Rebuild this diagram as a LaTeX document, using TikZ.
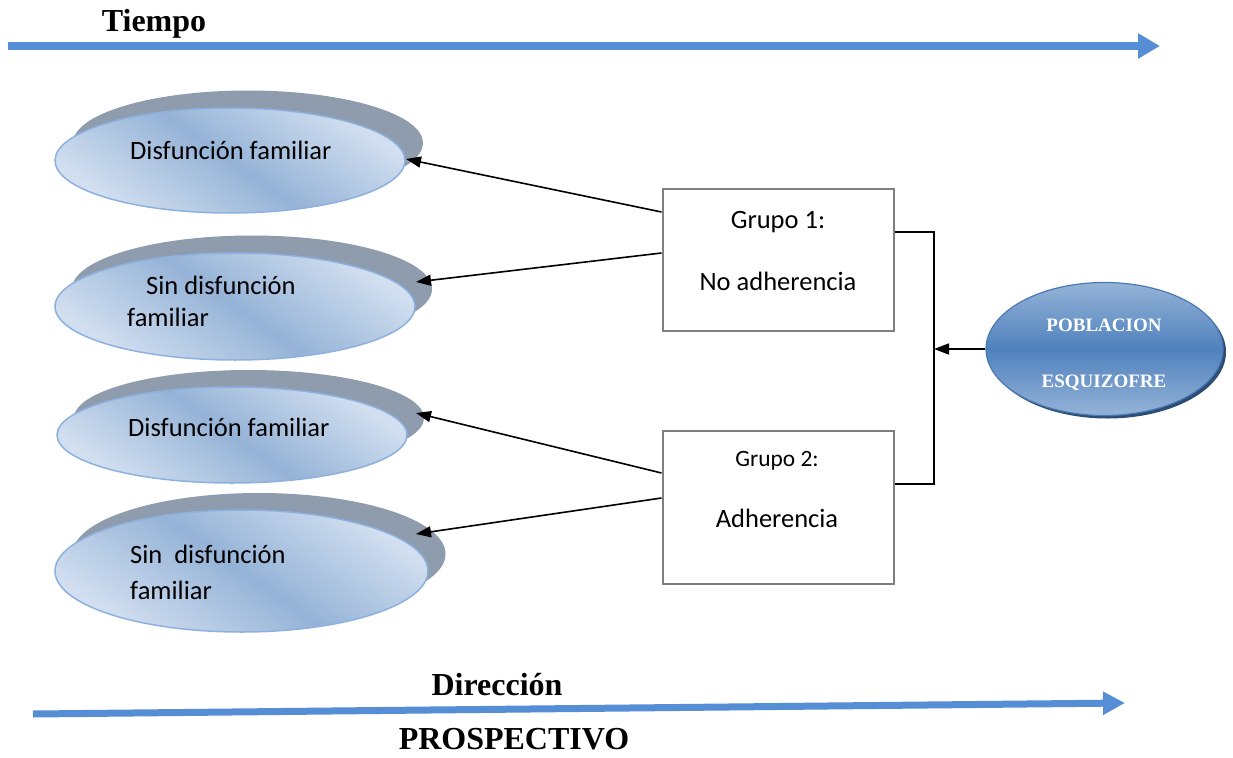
\documentclass[tikz,border=0pt]{standalone}
\usepackage{fontspec}
\setmainfont{Liberation Serif}
\newfontfamily\calfont{Carlito}
\usetikzlibrary{shapes.geometric,arrows.meta}
\definecolor{shadowgray}{RGB}{142,156,174}
\definecolor{elight}{RGB}{210,223,240}
\definecolor{edark}{RGB}{149,179,215}
\definecolor{ebord}{RGB}{141,177,222}
\definecolor{arrowblue}{RGB}{85,142,213}
\definecolor{plight}{RGB}{149,179,215}
\definecolor{pdark}{RGB}{79,129,189}
\definecolor{pbord}{RGB}{74,120,180}
\definecolor{pshadow}{RGB}{44,77,117}
\definecolor{boxgray}{RGB}{127,127,127}
\tikzset{
  shadowell/.style={ellipse, fill=shadowgray, draw=none, inner sep=0pt},
  frontell/.style={ellipse, draw=ebord, line width=1.5pt, inner sep=0pt,
    top color=elight, bottom color=elight, middle color=edark, shading angle=-35},
  txt/.style={anchor=base west, inner sep=0pt, font=\calfont\fontsize{26.5}{30}\selectfont},
  ctxt/.style={anchor=base, inner sep=0pt, font=\calfont\fontsize{26.5}{30}\selectfont},
  btxt/.style={anchor=base, inner sep=0pt, font=\bfseries\fontsize{32}{36}\selectfont},
  grpbox/.style={draw=boxgray, line width=2pt, fill=white, minimum width=231pt, minimum height=142pt, inner sep=0pt},
  conn/.style={line width=1.6pt, black},
  arr/.style={conn, -{Triangle[length=15pt,width=11pt]}},
  bigarrow/.style={line width=8pt, arrowblue, -{Triangle[length=22pt,width=24pt]}}
}
\begin{document}
\begin{tikzpicture}[x=1pt,y=-1pt]
\useasboundingbox (0,0) rectangle (1233,757);

% time arrow
\coordinate (ta) at (8,46);
\coordinate (tb) at (1160,46);
\draw[bigarrow] (ta) -- (tb);
\node[btxt] (tiempo) at (154,32) {Tiempo};

% ellipses (shadow + front)
\node[shadowell, minimum width=350pt, minimum height=105pt] (s1) at (248,143) {};
\node[frontell, minimum width=350pt, minimum height=105pt] (e1) at (230,160.5) {};
\node[txt] (l1) at (130,159) {Disfunción familiar};

\node[shadowell, minimum width=360pt, minimum height=107pt] (s2) at (252,289) {};
\node[frontell, minimum width=360pt, minimum height=107pt] (e2) at (235,306.5) {};
\node[txt] (l2a) at (146,294) {Sin disfunción};
\node[txt] (l2b) at (127,326) {familiar};

\node[shadowell, minimum width=350pt, minimum height=96pt] (s3) at (249,418) {};
\node[frontell, minimum width=350pt, minimum height=96pt] (e3) at (232,435) {};
\node[txt] (l3) at (128,436) {Disfunción familiar};

\node[shadowell, minimum width=373pt, minimum height=122pt] (s4) at (259,554) {};
\node[frontell, minimum width=373pt, minimum height=122pt] (e4) at (241.5,571) {};
\node[txt] (l4a) at (130,563) {Sin\ \ disfunción};
\node[txt] (l4b) at (130,599) {familiar};

% group boxes
\node[grpbox] (g1) at (778,260) {};
\node[ctxt] (g1a) at (778,228) {Grupo 1:};
\node[ctxt] (g1b) at (778,290) {No adherencia};

\node[grpbox, minimum height=153pt] (g2) at (778,507.5) {};
\node[ctxt, font=\calfont\fontsize{23.4}{27}\selectfont] (g2a) at (777,466) {Grupo 2:};
\node[ctxt] (g2b) at (777,527) {Adherencia};

% arrow tips
\coordinate (t1) at (406,159);
\coordinate (t2) at (416,282);
\coordinate (t3) at (416,413);
\coordinate (t4) at (416,534);
\draw[arr] ([yshift=48pt]g1.west) -- (t1);
\draw[arr] ([yshift=7pt]g1.west) -- (t2);
\draw[arr] ([yshift=34.5pt]g2.west) -- (t3);
\draw[arr] ([yshift=9.5pt]g2.west) -- (t4);

% population ellipse
\node[ellipse, fill=pshadow, minimum width=237pt, minimum height=133pt, inner sep=0pt] (popsh) at (1107.5,352) {};
\node[ellipse, draw=pbord, line width=1.2pt, minimum width=237pt, minimum height=133pt, inner sep=0pt,
  top color=plight, bottom color=plight, middle color=pdark] (pop) at (1104.5,349) {};
\node[anchor=base, inner sep=0pt, text=white, font=\bfseries\fontsize{19}{22}\selectfont] (popa) at (1104,331) {POBLACION};
\node[anchor=base, inner sep=0pt, text=white, font=\bfseries\fontsize{19}{22}\selectfont] (popb) at (1104,387) {ESQUIZOFRE};

% bracket connector
\coordinate (j1) at (934,232);
\coordinate (j2) at (934,484);
\coordinate (j) at (934,349);
\draw[conn] ([yshift=28pt]g1.east) -- (j1) -- (j2) -- ([yshift=23.5pt]g2.east);
\draw[arr] (pop.west) -- (j);

% direction arrow
\coordinate (da) at (33,714);
\coordinate (db) at (1125,703);
\draw[line width=7pt, arrowblue, -{Triangle[length=22pt,width=22pt]}] (da) -- (db);
\node[btxt] (dir) at (497,695) {Dirección};
\node[btxt] (pros) at (514,749) {PROSPECTIVO};
\end{tikzpicture}
\end{document}
